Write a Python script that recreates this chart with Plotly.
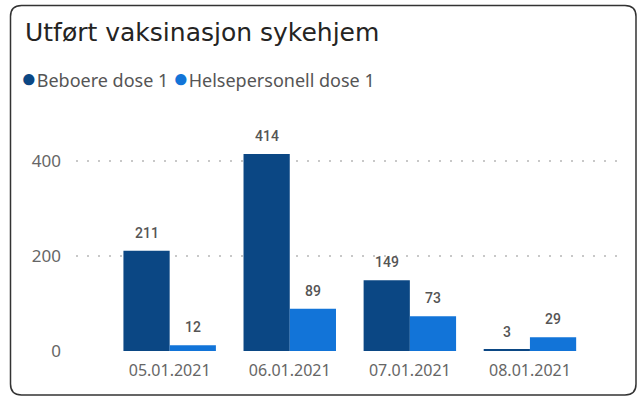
import re
import plotly.graph_objects as go

# data
dates = ["05.01.2021", "06.01.2021", "07.01.2021", "08.01.2021"]
beboere = [211, 414, 149, 3]
helsepersonell = [12, 89, 73, 29]
series_names = ["Beboere dose 1", "Helsepersonell dose 1"]
colors = ["#0B4784", "#1274D8"]

W, H = 643, 400
L, R, T, B = 76, 23, 137, 49
pw, ph = W - L - R, H - T - B
BARGAP = 0.23


def px2paper(x, y):
    return (x - L) / pw, (H - B - y) / ph


fig = go.Figure()
for name, vals, col in zip(series_names, [beboere, helsepersonell], colors):
    fig.add_trace(go.Bar(
        x=dates, y=vals, name=name, marker_color=col,
        marker_line_width=0, showlegend=False,
    ))

# value labels above the bars (half a bar width left/right of the category)
cat_px = pw / 4.53
half_bar = cat_px * (1 - BARGAP) / 4
annotations = []
for k, vals in enumerate([beboere, helsepersonell]):
    for d, v in zip(dates, vals):
        annotations.append(dict(
            x=d, y=v, text=str(v), showarrow=False,
            xshift=(-1 if k == 0 else 1) * half_bar, yshift=18,
            xanchor="center", yanchor="middle",
            font=dict(family="Roboto", size=14, color="#555555", weight=500),
        ))

# legend drawn as one line of text with coloured dots
legend_text = " ".join(
    f"<span style='color:{c};font-size:26px'>●</span>{n}"
    for n, c in zip(series_names, colors)
)
lx, ly = px2paper(19, 77)
annotations.append(dict(
    text=legend_text, xref="paper", yref="paper", x=lx, y=ly,
    xanchor="left", yanchor="middle", showarrow=False,
    font=dict(family="Noto Sans", size=18, color="#555555"),
))

# rounded card border
x0, y0, x1, y1, r = 10.5, 5.5, 636, 395, 11
path = (
    f"M {x0 + r},{y0} L {x1 - r},{y0} Q {x1},{y0} {x1},{y0 + r} "
    f"L {x1},{y1 - r} Q {x1},{y1} {x1 - r},{y1} "
    f"L {x0 + r},{y1} Q {x0},{y1} {x0},{y1 - r} "
    f"L {x0},{y0 + r} Q {x0},{y0} {x0 + r},{y0} Z"
)


def conv(m):
    px, py = px2paper(float(m.group(1)), float(m.group(2)))
    return f"{px:.5f},{py:.5f}"


path = re.sub(r"([\d.]+),([\d.]+)", conv, path)

fig.update_layout(
    width=W, height=H,
    margin=dict(l=L, r=R, t=T, b=B),
    paper_bgcolor="white", plot_bgcolor="white",
    barmode="group", bargap=BARGAP, bargroupgap=0,
    font=dict(family="Noto Sans", color="#666666"),
    showlegend=False,
    title=dict(
        text="Utført vaksinasjon sykehjem",
        x=25 / W, xanchor="left", xref="container",
        y=1 - 32 / H, yanchor="middle", yref="container",
        font=dict(family="DejaVu Sans", size=25, color="#252423"),
    ),
    annotations=annotations,
    xaxis=dict(
        range=[-0.78, 3.75], showgrid=False, zeroline=False, showline=False,
        tickfont=dict(family="Noto Sans", size=16, color="#666666"),
        ticks="", ticklabelstandoff=8,
    ),
    yaxis=dict(
        range=[0, 450], tickvals=[0, 200, 400], showgrid=True,
        gridcolor="#c8c8c8", griddash="2px,9px", gridwidth=1.5,
        zeroline=False, showline=False, ticks="",
        tickfont=dict(family="Noto Sans", size=17, color="#666666"),
        ticklabelstandoff=14,
    ),
    shapes=[dict(
        type="path", path=path, xref="paper", yref="paper",
        line=dict(color="#333333", width=1.5), fillcolor="rgba(0,0,0,0)",
        layer="above",
    )],
)

fig.write_html(
    "out.html",
    config={"displayModeBar": False},
    post_script="document.body.style.margin='0';",
)
